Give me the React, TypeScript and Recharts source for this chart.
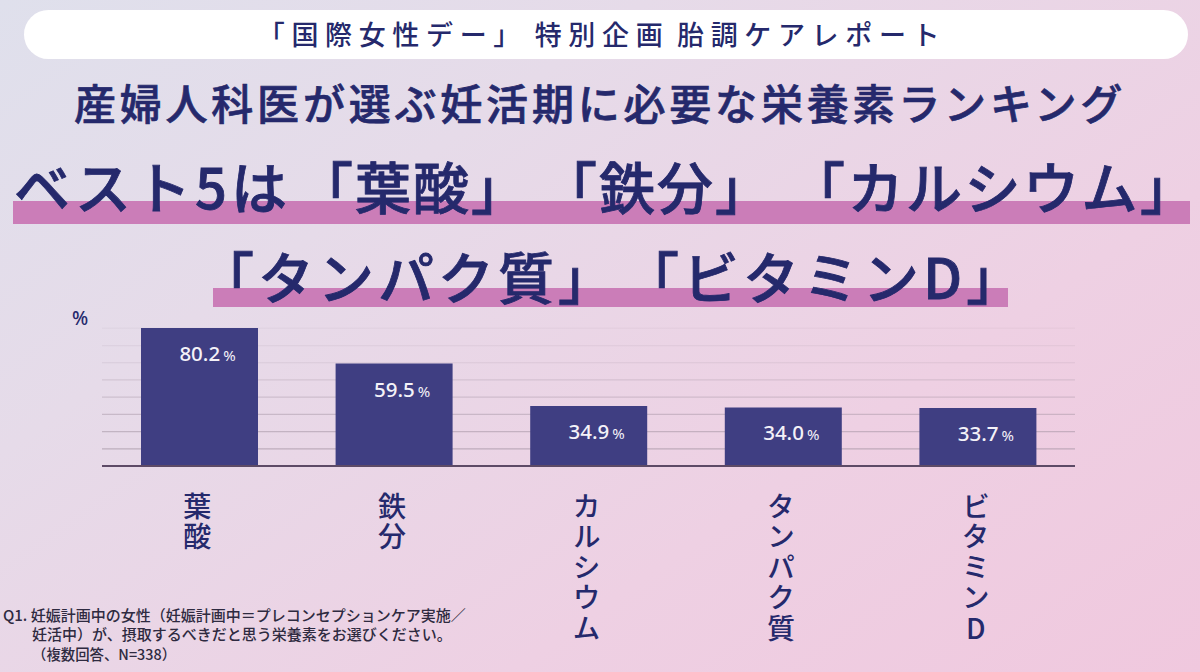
import { Bar, BarChart, CartesianGrid, LabelList, XAxis, YAxis } from "recharts";

const categories = ["葉酸", "鉄分", "カルシウム", "タンパク質", "ビタミンD"];
const shares = [80.2, 59.5, 34.9, 34.0, 33.7];
const yTicks = [0, 10, 20, 30, 40, 50, 60, 70, 80];

const rows = categories.map((name, i) => ({ name, share: shares[i] }));

const NAVY = "#25296c";
const JP = '"Noto Sans CJK JP", "Noto Sans", sans-serif';

const headline = [
  { text: "ベスト5は", left: 14, top: 149, size: 56, spacing: 4 },
  { text: "「葉酸」", left: 297, top: 149, size: 56, spacing: 2 },
  { text: "「鉄分」", left: 541, top: 149, size: 56, spacing: 2 },
  { text: "「カルシウム」", left: 789, top: 149, size: 56, spacing: 2.5 },
  { text: "「タンパク質」", left: 198, top: 239, size: 56, spacing: 4 },
  { text: "「ビタミンD」", left: 623, top: 239, size: 56, spacing: 4 },
];

const highlights = [
  { left: 13, top: 201, width: 1177, height: 23 },
  { left: 213, top: 288, width: 795, height: 19 },
];

const footnote = [
  { text: "Q1. 妊娠計画中の女性（妊娠計画中＝プレコンセプションケア実施／", left: 3, top: 606, size: 15 },
  { text: "妊活中）が、摂取するべきだと思う栄養素をお選びください。", left: 32, top: 625, size: 15 },
  { text: "（複数回答、N=338）", left: 32, top: 645, size: 14.4 },
];

function CategoryTick({ x, y, payload }: any) {
  return (
    <text
      x={x - 2}
      y={y + 18}
      fontSize={28}
      fontWeight={500}
      fontFamily={JP}
      fill={NAVY}
      letterSpacing={2.5}
      style={{ writingMode: "vertical-rl", textOrientation: "upright" }}
    >
      {payload.value}
    </text>
  );
}

function ValueLabel({ x, y, width, value }: any) {
  return (
    <text
      x={x + width / 2 + 8}
      y={y + 33}
      textAnchor="middle"
      fontFamily='"Noto Sans", sans-serif'
      fill="#f4f2f8"
    >
      <tspan fontSize={20.5} fontWeight={500}>
        {Number(value).toFixed(1)}
      </tspan>
      <tspan fontSize={15} dx={3}>
        %
      </tspan>
    </text>
  );
}

function GridLine({ x1, x2, y1, y2 }: any) {
  // lines get fainter towards the top of the plot
  const opacity = 0.04 + (0.62 * (y1 - 328)) / 137;
  return <line x1={x1} x2={x2} y1={y1} y2={y2} stroke="#a0909f" strokeWidth={1.2} opacity={opacity} />;
}

export default function App() {
  return (
    <div
      style={{
        position: "absolute",
        left: 0,
        top: 0,
        width: 1200,
        height: 672,
        overflow: "hidden",
        background: "linear-gradient(145deg, #dfe0ec 0%, #e6dbe9 30%, #eed0e3 68%, #f0c8de 100%)",
        fontFamily: JP,
      }}
    >
      <div
        style={{
          position: "absolute",
          left: 24,
          top: 10,
          width: 1164,
          height: 49,
          borderRadius: 25,
          background: "#ffffff",
          textAlign: "center",
          lineHeight: "48px",
          fontSize: 27,
          fontWeight: 500,
          letterSpacing: 6.65,
          wordSpacing: -5,
          paddingRight: 8,
          boxSizing: "border-box",
          color: NAVY,
          whiteSpace: "pre",
        }}
      >
        「国際女性デー」 特別企画 胎調ケアレポート
      </div>

      <div
        style={{
          position: "absolute",
          left: 0,
          top: 70,
          width: 1200,
          textAlign: "center",
          fontSize: 42,
          lineHeight: "64px",
          fontWeight: 500,
          letterSpacing: 3.8,
          WebkitTextStroke: `0.7px ${NAVY}`,
          color: NAVY,
          whiteSpace: "pre",
        }}
      >
        産婦人科医が選ぶ妊活期に必要な栄養素ランキング
      </div>

      {highlights.map((h, i) => (
        <div key={i} style={{ position: "absolute", ...h, background: "#cb7db8" }} />
      ))}

      {headline.map((h, i) => (
        <div
          key={i}
          style={{
            position: "absolute",
            left: h.left,
            top: h.top,
            fontSize: h.size,
            lineHeight: "72px",
            fontWeight: 500,
            letterSpacing: h.spacing,
            WebkitTextStroke: `0.8px ${NAVY}`,
            color: NAVY,
            whiteSpace: "pre",
          }}
        >
          {h.text}
        </div>
      ))}

      <div style={{ position: "absolute", left: 72, top: 305, fontSize: 19, fontWeight: 500, color: NAVY, fontFamily: '"Noto Sans", sans-serif' }}>
        %
      </div>

      <div style={{ position: "absolute", left: 0, top: 0 }}>
        <BarChart
          width={1200}
          height={672}
          data={rows}
          margin={{ top: 328, right: 125, bottom: 0, left: 102 }}
          barCategoryGap={0}
        >
          <CartesianGrid vertical={false} horizontal={(props: any) => <GridLine key={props.index} {...props} />} />
          <YAxis hide width={0} domain={[0, 80]} ticks={yTicks} interval={0} />
          <XAxis
            dataKey="name"
            interval={0}
            height={206}
            tickLine={false}
            axisLine={{ stroke: "#5d4a66", strokeWidth: 2 }}
            tick={<CategoryTick />}
          />
          <Bar dataKey="share" barSize={117} fill="#3f3e82" isAnimationActive={false}>
            <LabelList dataKey="share" content={<ValueLabel />} />
          </Bar>
        </BarChart>
      </div>

      {footnote.map((f, i) => (
        <div
          key={i}
          style={{
            position: "absolute",
            left: f.left,
            top: f.top,
            fontSize: f.size,
            lineHeight: "18px",
            fontWeight: 500,
            color: "#2e2a40",
            whiteSpace: "pre",
          }}
        >
          {f.text}
        </div>
      ))}
    </div>
  );
}
